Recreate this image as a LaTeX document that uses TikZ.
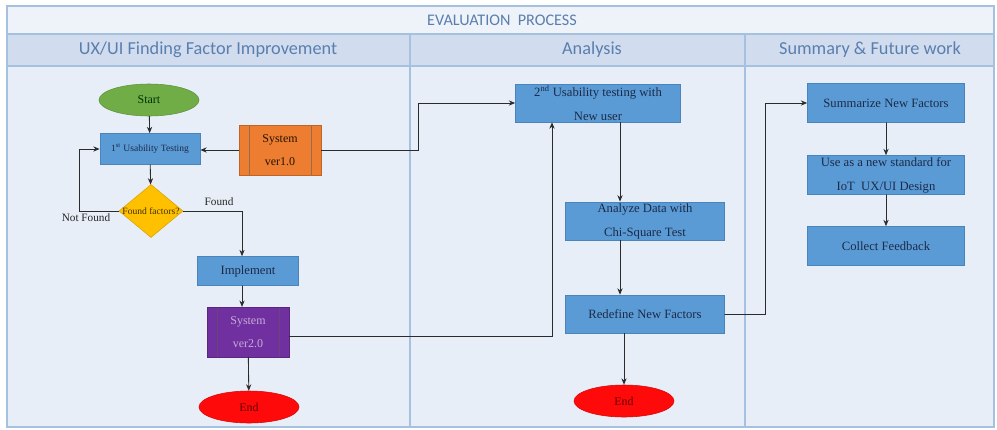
\documentclass[tikz,border=0pt]{standalone}
\usepackage{fontspec}
\setmainfont{Liberation Serif}
\newfontfamily\hdrfont{Carlito}
\usepackage{tikz}
\usetikzlibrary{arrows.meta,shapes.geometric}
\definecolor{frameline}{HTML}{A6C0E0}
\definecolor{bodyfill}{HTML}{E8EEF7}
\definecolor{titlefill}{HTML}{EEF2F9}
\definecolor{hdrfill}{HTML}{D1DDEE}
\definecolor{hdrtext}{HTML}{5A7FAE}
\definecolor{boxfill}{HTML}{5B9BD5}
\definecolor{boxline}{HTML}{4A84BC}
\definecolor{boxtext}{HTML}{1C2A48}
\definecolor{startfill}{HTML}{70AD47}
\definecolor{endfill}{HTML}{FF0A0A}
\definecolor{askfill}{HTML}{FFC000}
\definecolor{verAfill}{HTML}{ED7D31}
\definecolor{verBfill}{HTML}{7030A0}
\definecolor{linkcol}{HTML}{2B2B2B}

\begin{document}
\begin{tikzpicture}[x=0.025cm,y=-0.025cm,>={Stealth[length=1.6mm,width=1.3mm]},line cap=round,
  link/.style={draw=linkcol,line width=0.6pt},
  hdr/.style={font=\hdrfont\fontsize{13}{15}\selectfont,text=hdrtext},
  procbox/.style={rectangle,draw=boxline,fill=boxfill,text=boxtext,align=center,inner sep=1pt,font=\fontsize{9}{17}\selectfont},
  terminal/.style={ellipse,draw=#1!85!black,fill=#1,minimum width=2.5cm,minimum height=0.8cm,inner sep=0pt,font=\fontsize{8.5}{10}\selectfont},
  sysbox/.style={rectangle,draw=#1!80!black,fill=#1,minimum width=2.05cm,minimum height=1.24cm,inner sep=0pt,align=center,font=\fontsize{8.5}{16}\selectfont,
    path picture={\draw[#1!55!black!80!white] ([xshift=0.25cm]path picture bounding box.north west) -- ([xshift=0.25cm]path picture bounding box.south west) ([xshift=-0.25cm]path picture bounding box.north east) -- ([xshift=-0.25cm]path picture bounding box.south east);}},
  branch/.style={font=\fontsize{8}{10}\selectfont,text=black!85}]
\useasboundingbox (0,0) rectangle (997,429);
\fill[bodyfill] (7,66) rectangle (994,427);
\fill[titlefill] (7,6) rectangle (994,34);
\fill[hdrfill] (7,34) rectangle (994,66);
\draw[frameline,line width=0.8pt] (7,6) rectangle (994,427);
\draw[frameline,line width=0.8pt] (7,34) -- (994,34) (7,66) -- (994,66);
\draw[frameline,line width=0.8pt] (410,34) -- (410,427) (745,34) -- (745,427);
\node[hdr,font=\hdrfont\fontsize{11.5}{13}\selectfont] (title) at (502,20) {EVALUATION\ \ PROCESS};
\node[hdr] (hdrFind) at (208,50) {UX/UI\ Finding Factor Improvement};
\node[hdr] (hdrAnalysis) at (592,50) {Analysis};
\node[hdr] (hdrSummary) at (870,50) {Summary \& Future work};
\node[terminal=startfill,text=black!80!green] (start) at (149,100) {Start};
\node[procbox,minimum width=2.5cm,minimum height=0.775cm,font=\fontsize{6.8}{8}\selectfont] (testA) at (150,149) {1\textsuperscript{st} Usability Testing};
\node[sysbox=verAfill,text=black!85!orange] (verA) at (280,150) {System\\ver1.0};
\node[diamond,draw=askfill!85!black,fill=askfill,minimum width=1.6cm,minimum height=1.325cm,inner sep=0pt,
  label={[font=\fontsize{6.8}{8}\selectfont,text=black!75!askfill]center:Found factors?}] (ask) at (151,211) {};
\node[branch] (notfound) at (86,218) {Not Found};
\node[branch] (found) at (219,202) {Found};
\node[procbox,minimum width=2.525cm,minimum height=0.725cm] (impl) at (248,271) {Implement};
\node[sysbox=verBfill,text=verBfill!40!white] (verB) at (248,332) {System\\ver2.0};
\node[terminal=endfill,text=black!60!red] (endA) at (249,407) {End};
\node[procbox,minimum width=4.125cm,minimum height=0.95cm] (testB) at (598,103) {2\textsuperscript{nd} Usability testing with\\New user};
\node[procbox,minimum width=3.975cm,minimum height=0.95cm] (chi) at (645,221) {Analyze Data with\\Chi-Square Test};
\node[procbox,minimum width=3.975cm,minimum height=0.95cm] (redef) at (645,314) {Redefine New Factors};
\node[terminal=endfill,text=black!60!red] (endB) at (624,401) {End};
\node[procbox,minimum width=3.925cm,minimum height=0.975cm] (summ) at (886,103) {Summarize New Factors};
\node[procbox,minimum width=3.925cm,minimum height=0.975cm] (std) at (886,175) {Use as a new standard for\\IoT\ \ UX/UI Design};
\node[procbox,minimum width=3.925cm,minimum height=0.975cm] (collect) at (886,246) {Collect Feedback};
\coordinate (chiIn) at ([xshift=-0.625cm]chi.north);
\draw[link,->] (start) -- (testA);
\draw[link,->] (testA) -- (ask);
\draw[link,->] (ask.west) -- ++(-39,0) |- (testA.west);
\draw[link,->] (ask.east) -| ([xshift=-0.15cm]impl.north);
\draw[link,->] ([xshift=-0.15cm]impl.south) -- ([xshift=-0.15cm]verB.north);
\draw[link,->] (verB) -- (endA);
\draw[link,->] (verA.west) -- (verA.west -| testA.east);
\draw[link,->] (verA.east) -- ++(97,0) |- (testB.west);
\draw[link,->] ([yshift=-0.1cm]verB.east) -| ([xshift=-1.15cm]testB.south);
\draw[link,->] (testB.south -| chiIn) -- (chiIn);
\draw[link,->] (chi.south -| chiIn) -- (redef.north -| chiIn);
\draw[link,->] (redef.south -| endB.north) -- (endB.north);
\draw[link,->] (redef.east) -- ++(41,0) |- (summ.west);
\draw[link,->] (summ) -- (std);
\draw[link,->] (std) -- (collect);
\end{tikzpicture}
\end{document}
